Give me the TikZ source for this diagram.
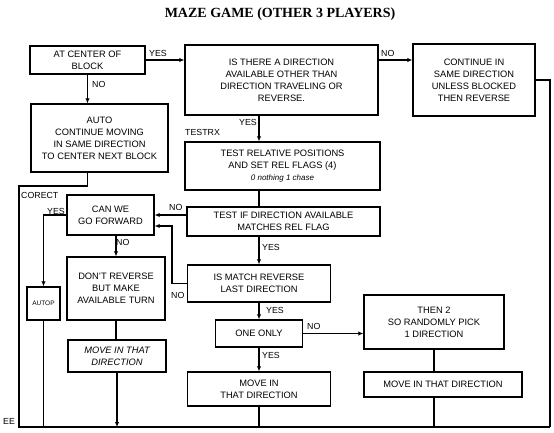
\documentclass[tikz,border=0pt]{standalone}
\usepackage{fontspec}
\setmainfont{Liberation Sans}
\newfontfamily\titlefont{Liberation Serif}
\usetikzlibrary{arrows.meta}
\begin{document}
\begin{tikzpicture}[x=1pt,y=-1pt,
  box/.style={draw,line width=1.4pt,align=center,inner sep=0pt,font=\fontsize{9.3}{12}\selectfont},
  lbl/.style={font=\fontsize{8.8}{10}\selectfont,inner sep=0pt},
  ln/.style={line width=1.3pt},
  arr/.style={ln,-{Latex[length=5pt,width=4.5pt]}}]
\useasboundingbox (0,0) rectangle (554,433);
\node[font=\titlefont\bfseries\fontsize{14}{16}\selectfont] (title) at (280,14) {MAZE GAME (OTHER 3 PLAYERS)};
% boxes
\node[box,minimum width=115pt,minimum height=28pt] (A) at (87.5,60) {AT CENTER OF\\BLOCK};
\node[box,minimum width=193pt,minimum height=70pt] (B) at (281.5,80) {IS THERE A DIRECTION\\AVAILABLE OTHER THAN\\DIRECTION TRAVELING OR\\REVERSE.};
\node[box,minimum width=122pt,minimum height=72pt] (C) at (474,80) {CONTINUE IN\\SAME DIRECTION\\UNLESS BLOCKED\\THEN REVERSE};
\node[box,minimum width=137pt,minimum height=68pt] (AUTO) at (99.5,138) {AUTO\\CONTINUE MOVING\\IN SAME DIRECTION\\TO CENTER NEXT BLOCK};
\node[box,minimum width=195pt,minimum height=48pt] (TREL) at (282.5,166) {TEST RELATIVE POSITIONS\\AND SET REL FLAGS (4)\\{\fontsize{8}{10}\selectfont\itshape 0 nothing 1 chase}};
\node[box,minimum width=193pt,minimum height=29pt] (TIF) at (283.5,221.5) {TEST IF DIRECTION AVAILABLE\\MATCHES REL FLAG};
\node[box,minimum width=87pt,minimum height=40pt] (CAN) at (110.5,215) {CAN WE\\GO FORWARD};
\node[box,minimum width=143pt,minimum height=37pt] (ISM) at (259,283.5) {IS MATCH REVERSE\\LAST DIRECTION};
\node[box,minimum width=87pt,minimum height=27pt] (ONE) at (259,333.5) {ONE ONLY};
\node[box,minimum width=143pt,minimum height=34pt] (MOVM) at (259,389) {MOVE IN\\THAT DIRECTION};
\node[box,minimum width=140pt,minimum height=54pt] (THEN) at (434,322) {THEN 2\\SO RANDOMLY PICK\\1 DIRECTION};
\node[box,minimum width=158pt,minimum height=25pt] (MOVR) at (443,384.5) {MOVE IN THAT DIRECTION};
\node[box,minimum width=33pt,minimum height=33pt,font=\fontsize{6.5}{8}\selectfont] (AUTOP) at (43.5,303.5) {AUTOP};
\node[box,minimum width=98pt,minimum height=63pt] (DONT) at (116,288.5) {DON'T REVERSE\\BUT MAKE\\AVAILABLE TURN};
\node[box,minimum width=98pt,minimum height=32pt,font=\fontsize{9.3}{12}\selectfont\itshape] (MOVL) at (117,356) {MOVE IN THAT\\DIRECTION};
% coordinates
\coordinate (bl) at (19,427);
\coordinate (rc) at (550,427);
\coordinate (k1) at (19,186);
\coordinate (n1) at (172,226);
% connectors
\draw[arr] (A.east) -- (A.east -| B.west);
\draw[arr] (A.east -| B.east) -- (A.east -| C.west);
\draw[ln] (C.east) -- (C.east -| rc) -- (rc);
\draw[arr] (A.south) -- (A.south |- AUTO.north);
\draw[ln] (A.south |- AUTO.south) |- (k1) -- (bl) -- (rc);
\draw[arr] (ISM.north |- B.south) -- (ISM.north |- TREL.north);
\draw[ln] (ISM.north |- TREL.south) -- (ISM.north |- TIF.north);
\draw[arr] (CAN.east -| TIF.west) -- (CAN.east);
\draw[arr] (ISM.north |- TIF.south) -- (ISM.north);
\draw[arr] (ISM.west) -| (n1) -- (n1 -| CAN.east);
\draw[arr] (ISM.south) -- (ONE.north);
\draw[arr] (ONE.south) -- (MOVM.north);
\draw[ln] (MOVM.south) -- (MOVM.south |- bl);
\draw[arr] (ONE.east) -- (ONE.east -| THEN.west);
\draw[ln] (THEN.south) -- (THEN.south |- MOVR.north);
\draw[ln] (THEN.south |- MOVR.south) -- (THEN.south |- bl);
\draw[arr] (CAN.west) -| (AUTOP.north);
\draw[ln] (AUTOP.south) -- (AUTOP.south |- bl);
\draw[arr] (DONT.north |- CAN.south) -- (DONT.north);
\draw[ln] (DONT.south) -- (DONT.south |- MOVL.north);
\draw[arr] (MOVL.south) -- (MOVL.south |- bl);
% labels
\node[lbl,anchor=west] (l1) at (149,53) {YES};
\node[lbl,anchor=west] (l2) at (381,53) {NO};
\node[lbl,anchor=west] (l3) at (92,84) {NO};
\node[lbl,anchor=east] (l4) at (257,122) {YES};
\node[lbl,anchor=west] (l5) at (185,132) {TESTRX};
\node[lbl,anchor=west] (l6) at (169,207) {NO};
\node[lbl,anchor=west] (l7) at (262,247) {YES};
\node[lbl,anchor=west] (l8) at (171,295) {NO};
\node[lbl,anchor=west] (l9) at (266,310) {YES};
\node[lbl,anchor=west] (l10) at (307,326) {NO};
\node[lbl,anchor=west] (l11) at (262,355) {YES};
\node[lbl,anchor=east] (l12) at (65,211) {YES};
\node[lbl,anchor=west] (l13) at (116,242) {NO};
\node[lbl,anchor=west] (l14) at (21,195) {CORECT};
\node[lbl,anchor=west] (l15) at (3,421) {EE};
\end{tikzpicture}
\end{document}
